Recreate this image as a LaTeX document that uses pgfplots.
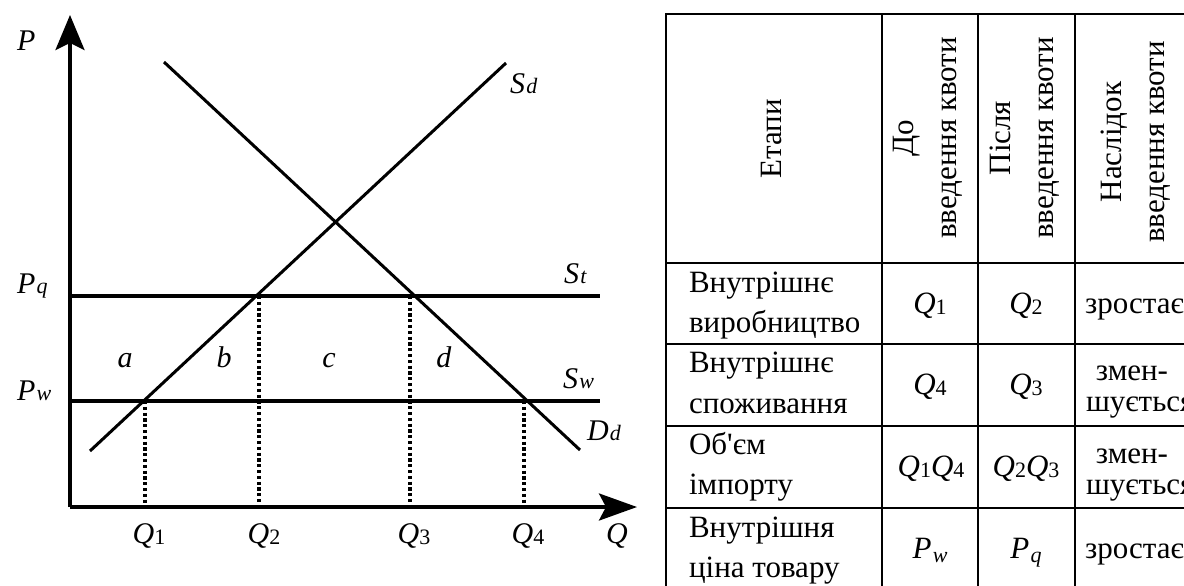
\documentclass[border=0pt]{standalone}
\usepackage{fontspec}
\setmainfont{Liberation Serif}
\usepackage{pgfplots}
\pgfplotsset{compat=1.18}
\usetikzlibrary{arrows.meta}

% italic letter with an upright digit as subscript
\newcommand{\subd}[2]{\textit{#1}\raisebox{-0.04em}{\fontsize{11}{11}\selectfont #2}}
% italic letter with an italic subscript, optional drop
\newcommand{\subi}[3][0pt]{\textit{#2}\kern0.04em\raisebox{-#1}{\fontsize{11}{11}\selectfont\itshape #3}}
% straight apostrophe
\newcommand{\apos}{{\addfontfeatures{Ligatures=TeXOff}'}}

\newcommand{\lbl}{\fontsize{15}{17}\selectfont}
\newcommand{\body}{\fontsize{15.5}{20}\selectfont}
\newcommand{\hdr}{\fontsize{15.5}{21.5}\selectfont}
\newcommand{\mth}{\fontsize{15.5}{17}\selectfont}

\begin{document}
\begin{tikzpicture}
\begin{axis}[
    x=0.5pt, y=0.5pt, y dir=reverse,
    xmin=0, xmax=1184, ymin=0, ymax=585,
    hide axis, clip=false,
    every node/.style={inner sep=0pt},
]
\coordinate (TL) at (0,0);
\coordinate (BR) at (1184,585);

% --- diagram: axes
\addplot[line width=1.75pt, -{Stealth[length=17.5pt,width=14.5pt,inset=3.5pt]}]
  coordinates {(70,507) (70,15)};
\addplot[line width=1.75pt, -{Stealth[length=19pt,width=13.5pt,inset=3.5pt]}]
  coordinates {(70,507) (637,507)};

% supply Sd and demand Dd
\addplot[line width=1.5pt] coordinates {(90,451) (506,63)};
\addplot[line width=1.5pt] coordinates {(164,62) (580,450)};

% price levels Pq and Pw
\addplot[line width=1.75pt] coordinates {(70,296) (600,296)};
\addplot[line width=1.75pt] coordinates {(70,401) (600,401)};

% quantities
\addplot[line width=2pt, dash pattern=on 1.6pt off 1.3pt] coordinates {(145,401) (145,507)};
\addplot[line width=2pt, dash pattern=on 1.6pt off 1.3pt] coordinates {(259,296) (259,507)};
\addplot[line width=2pt, dash pattern=on 1.6pt off 1.3pt] coordinates {(410,296) (410,507)};
\addplot[line width=2pt, dash pattern=on 1.6pt off 1.3pt] coordinates {(524,401) (524,507)};

% diagram labels
\node[font=\lbl, anchor=base west] at (10,50) {\textit{P}};
\node[font=\lbl, anchor=base west] at (10,293) {\subi{P}{q}};
\node[font=\lbl, anchor=base west] at (10,400) {\subi{P}{w}};
\node[font=\lbl, anchor=base west] at (503,93) {\subi{S}{d}};
\node[font=\lbl, anchor=base west] at (557,283) {\subi{S}{t}};
\node[font=\lbl, anchor=base west] at (556,388) {\subi{S}{w}};
\node[font=\lbl, anchor=base west] at (580,440) {\subi{D}{d}};
\node[font=\lbl, anchor=base] at (125,367) {\textit{a}};
\node[font=\lbl, anchor=base] at (224,367) {\textit{b}};
\node[font=\lbl, anchor=base] at (329,367) {\textit{c}};
\node[font=\lbl, anchor=base] at (444,367) {\textit{d}};
\node[font=\lbl, anchor=base] at (149,543) {\subd{Q}{1}};
\node[font=\lbl, anchor=base] at (264,543) {\subd{Q}{2}};
\node[font=\lbl, anchor=base] at (414,543) {\subd{Q}{3}};
\node[font=\lbl, anchor=base] at (528,543) {\subd{Q}{4}};
\node[font=\lbl, anchor=base] at (617,543) {\textit{Q}};

% --- table grid
\draw[line width=1.4pt] (666,13) -- (666,600);
\draw[line width=1.35pt] (665,14) -- (1200,14);
\draw[line width=0.55pt] (882,14) -- (882,600);
\draw[line width=0.55pt] (978,14) -- (978,600);
\draw[line width=0.55pt] (1075,14) -- (1075,600);
\draw[line width=0.55pt] (666,263) -- (1200,263);
\draw[line width=0.55pt] (666,344) -- (1200,344);
\draw[line width=0.55pt] (666,426) -- (1200,426);
\draw[line width=0.55pt] (666,508) -- (1200,508);

% header
\node[font=\hdr, rotate=90] at (771,139) {Етапи};
\node[font=\hdr, rotate=90, align=center] at (928,138) {До\\введення квоти};
\node[font=\hdr, rotate=90, align=center] at (1025,138) {Після\\введення квоти};
\node[font=\hdr, rotate=90, align=center] at (1136,142) {Наслідок\\введення квоти};

% first column
\node[font=\body, anchor=base west] at (682,292) {Внутрішнє};
\node[font=\body, anchor=base west] at (682,332) {виробництво};
\node[font=\body, anchor=base west] at (682,372) {Внутрішнє};
\node[font=\body, anchor=base west] at (682,413) {споживання};
\node[font=\body, anchor=base west] at (682,454) {Об\apos єм};
\node[font=\body, anchor=base west] at (682,494) {імпорту};
\node[font=\body, anchor=base west] at (682,537) {Внутрішня};
\node[font=\body, anchor=base west] at (682,577) {ціна товару};

% before / after
\node[font=\mth, anchor=base] at (930,313) {\subd{Q}{1}};
\node[font=\mth, anchor=base] at (1026,313) {\subd{Q}{2}};
\node[font=\mth, anchor=base] at (930,394) {\subd{Q}{4}};
\node[font=\mth, anchor=base] at (1026,394) {\subd{Q}{3}};
\node[font=\mth, anchor=base] at (931,476) {\subd{Q}{1}\subd{Q}{4}};
\node[font=\mth, anchor=base] at (1026,476) {\subd{Q}{2}\subd{Q}{3}};
\node[font=\mth, anchor=base] at (930,558) {\subi[2pt]{P}{w}};
\node[font=\mth, anchor=base] at (1026,558) {\subi[2pt]{P}{q}};

% consequence
\node[font=\body, anchor=base west] at (1078,313) {зростає};
\node[font=\body, anchor=base] at (1132,380) {змен-};
\node[font=\body, anchor=base west] at (1079,411) {шується};
\node[font=\body, anchor=base] at (1132,463) {змен-};
\node[font=\body, anchor=base west] at (1079,494) {шується};
\node[font=\body, anchor=base west] at (1078,558) {зростає};
\end{axis}
\pgfresetboundingbox
\path[use as bounding box] (TL) rectangle (BR);
\end{tikzpicture}
\end{document}
